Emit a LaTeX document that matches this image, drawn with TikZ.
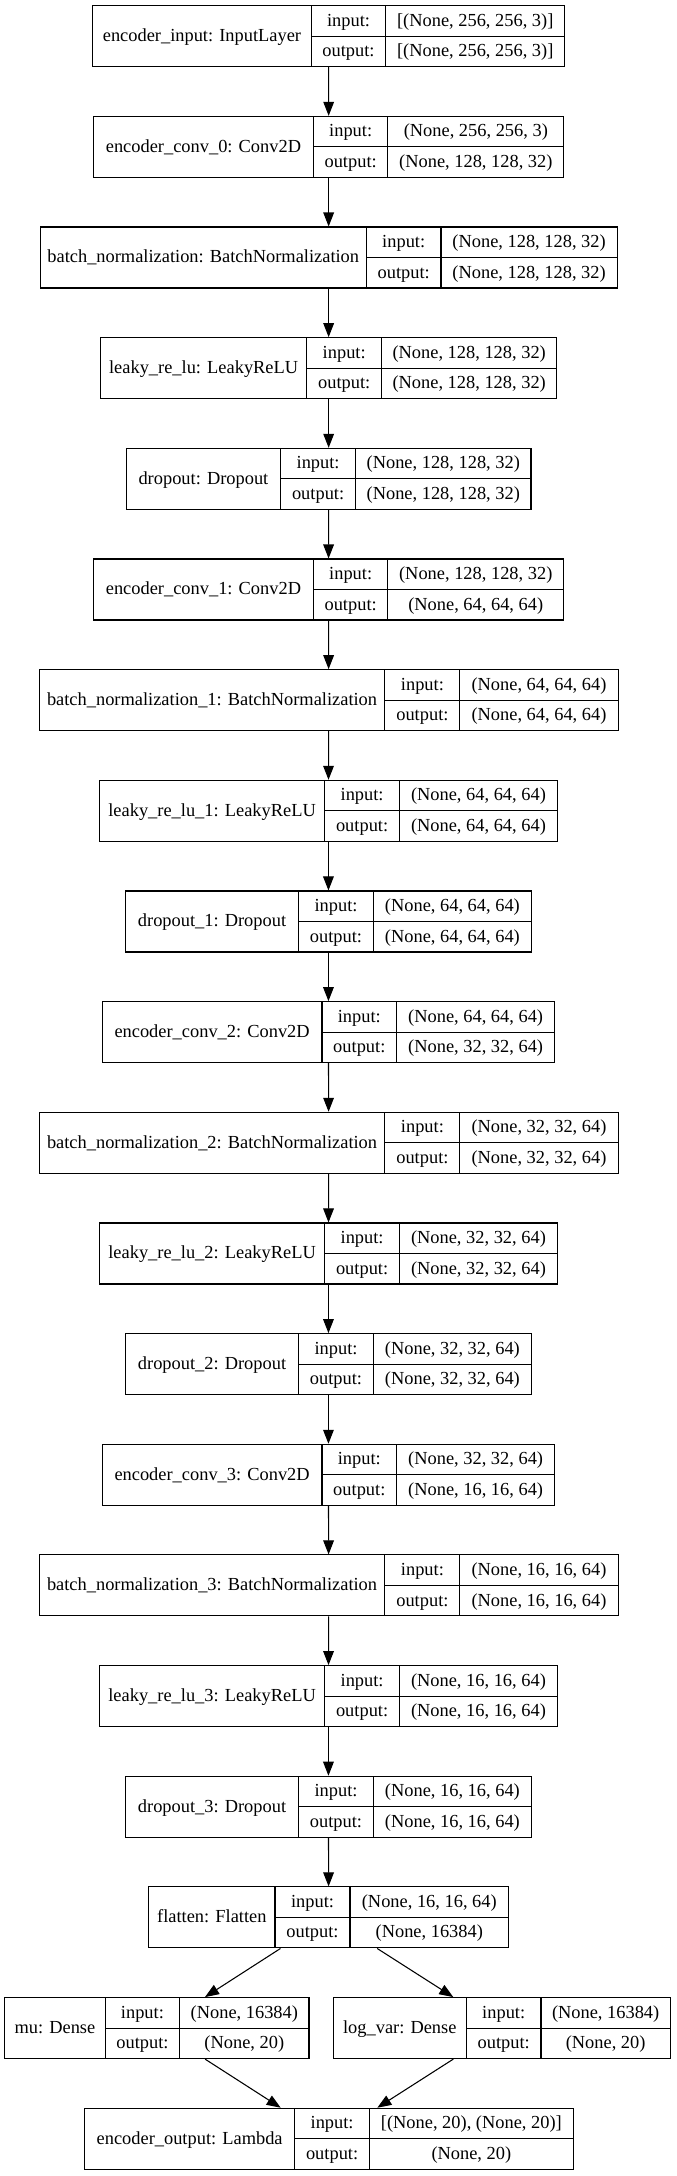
\documentclass[tikz,border=0pt]{standalone}
\usepackage{fontspec}
\setmainfont{Liberation Serif}
\usetikzlibrary{arrows.meta}
\tikzset{
  box/.style={draw=black, line width=0.8pt, rectangle, inner sep=0pt, minimum height={61*0.75pt}},
  cell/.style={draw=black, line width=0.8pt},
  txt/.style={inner sep=0pt, anchor=base, font=\fontsize{13.8}{16}\selectfont},
  conn/.style={draw=black, line width=0.8pt, -{Triangle[length=10.5pt,width=8pt]}, shorten >=0pt}
}
\newcommand\mylayer[9]{%
  \pgfmathsetmacro\lyT{5.7+110.66*#6}%
  \pgfmathsetmacro\lyB{\lyT+61}%
  \pgfmathsetmacro\lyM{\lyT+30.5}%
  \pgfmathsetmacro\lyC{(#2+#5)/2}%
  \pgfmathsetmacro\lyW{(#5-#2)*0.75}%
  \node[box, minimum width=\lyW pt] (#1) at (\lyC,\lyM) {};
  \draw[cell] (#3,\lyT) -- (#3,\lyB) (#4,\lyT) -- (#4,\lyB) (#3,\lyM) -- (#5,\lyM);
  \node[txt] (#1-name) at ({(#2+#3)/2},{\lyM+5.3}) {#7};
  \node[txt] (#1-inl) at ({(#3+#4)/2},{\lyT+15.25+5.3}) {input:};
  \node[txt] (#1-outl) at ({(#3+#4)/2},{\lyT+45.75+5.3}) {output:};
  \node[txt] (#1-inv) at ({(#4+#5)/2},{\lyT+15.25+5.3}) {#8};
  \node[txt] (#1-outv) at ({(#4+#5)/2},{\lyT+45.75+5.3}) {#9};
}
\begin{document}
\begin{tikzpicture}[x=0.75pt,y=-0.75pt]
\fill[white] (0,0) rectangle (677,2176);
\useasboundingbox (0,0) rectangle (677,2176);
\mylayer{l0}{92.7}{311.2}{385.8}{564.7}{0}{encoder\_input: InputLayer}{[(None, 256, 256, 3)]}{[(None, 256, 256, 3)]}
\mylayer{l1}{93.5}{313.4}{387.9}{563.8}{1}{encoder\_conv\_0: Conv2D}{(None, 256, 256, 3)}{(None, 128, 128, 32)}
\mylayer{l2}{40.1}{366.4}{441.0}{617.2}{2}{batch\_normalization: BatchNormalization}{(None, 128, 128, 32)}{(None, 128, 128, 32)}
\mylayer{l3}{100.4}{306.9}{381.5}{556.9}{3}{leaky\_re\_lu: LeakyReLU}{(None, 128, 128, 32)}{(None, 128, 128, 32)}
\mylayer{l4}{126.3}{280.6}{355.6}{531.0}{4}{dropout: Dropout}{(None, 128, 128, 32)}{(None, 128, 128, 32)}
\mylayer{l5}{93.5}{313.4}{387.9}{563.6}{5}{encoder\_conv\_1: Conv2D}{(None, 128, 128, 32)}{(None, 64, 64, 64)}
\mylayer{l6}{39.2}{384.9}{459.9}{618.1}{6}{batch\_normalization\_1: BatchNormalization}{(None, 64, 64, 64)}{(None, 64, 64, 64)}
\mylayer{l7}{99.6}{324.6}{399.6}{557.3}{7}{leaky\_re\_lu\_1: LeakyReLU}{(None, 64, 64, 64)}{(None, 64, 64, 64)}
\mylayer{l8}{125.4}{298.7}{373.3}{531.5}{8}{dropout\_1: Dropout}{(None, 64, 64, 64)}{(None, 64, 64, 64)}
\mylayer{l9}{102.2}{322.0}{396.6}{554.7}{9}{encoder\_conv\_2: Conv2D}{(None, 64, 64, 64)}{(None, 32, 32, 64)}
\mylayer{l10}{39.2}{384.9}{459.9}{618.1}{10}{batch\_normalization\_2: BatchNormalization}{(None, 32, 32, 64)}{(None, 32, 32, 64)}
\mylayer{l11}{99.6}{324.6}{399.6}{557.3}{11}{leaky\_re\_lu\_2: LeakyReLU}{(None, 32, 32, 64)}{(None, 32, 32, 64)}
\mylayer{l12}{125.4}{298.7}{373.3}{531.5}{12}{dropout\_2: Dropout}{(None, 32, 32, 64)}{(None, 32, 32, 64)}
\mylayer{l13}{102.2}{322.0}{396.6}{554.7}{13}{encoder\_conv\_3: Conv2D}{(None, 32, 32, 64)}{(None, 16, 16, 64)}
\mylayer{l14}{39.2}{384.9}{459.9}{618.1}{14}{batch\_normalization\_3: BatchNormalization}{(None, 16, 16, 64)}{(None, 16, 16, 64)}
\mylayer{l15}{99.6}{324.6}{399.6}{557.3}{15}{leaky\_re\_lu\_3: LeakyReLU}{(None, 16, 16, 64)}{(None, 16, 16, 64)}
\mylayer{l16}{125.4}{298.7}{373.3}{531.5}{16}{dropout\_3: Dropout}{(None, 16, 16, 64)}{(None, 16, 16, 64)}
\mylayer{l17}{148.7}{275.0}{350.0}{508.6}{17}{flatten: Flatten}{(None, 16, 16, 64)}{(None, 16384)}
\mylayer{mu}{4.7}{105.2}{179.7}{309.0}{18}{mu: Dense}{(None, 16384)}{(None, 20)}
\mylayer{lv}{333.2}{466.4}{541.0}{670.3}{18}{log\_var: Dense}{(None, 16384)}{(None, 20)}
\mylayer{out}{84.5}{294.8}{369.4}{573.3}{19}{encoder\_output: Lambda}{[(None, 20), (None, 20)]}{(None, 20)}
\foreach \a/\b in {l0/l1,l1/l2,l2/l3,l3/l4,l4/l5,l5/l6,l6/l7,l7/l8,l8/l9,l9/l10,l10/l11,l11/l12,l12/l13,l13/l14,l14/l15,l15/l16,l16/l17}
  \draw[conn] (\a) -- (\b);
\draw[conn] (l17) -- (mu);
\draw[conn] (l17) -- (lv);
\draw[conn] (mu) -- (out);
\draw[conn] (lv) -- (out);
\end{tikzpicture}
\end{document}
